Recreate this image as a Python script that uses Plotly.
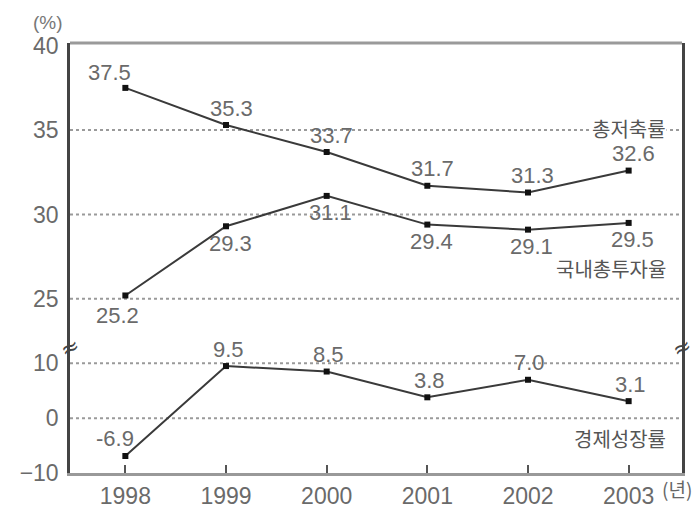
import plotly.graph_objects as go

years = [1998, 1999, 2000, 2001, 2002, 2003]
savings = [37.5, 35.3, 33.7, 31.7, 31.3, 32.6]      # 총저축률
investment = [25.2, 29.3, 31.1, 29.4, 29.1, 29.5]   # 국내총투자율
growth = [-6.9, 9.5, 8.5, 3.8, 7.0, 3.1]            # 경제성장률

names = ["총저축률", "국내총투자율", "경제성장률"]
top_ticks = [25, 30, 35, 40]
bottom_ticks = [-10, 0, 10]
top_grid = [25, 30, 35]
bottom_grid = [0, 10]

NUM_FONT = "Liberation Sans"
KR_FONT = "Noto Sans CJK KR"
BREAK = 0.2908

fig = go.Figure()
line_style = dict(color="#3a3a3a", width=2)
marker_style = dict(symbol="square", size=6, color="#111")

fig.add_trace(go.Scatter(x=years, y=savings, mode="lines+markers", line=line_style,
                         marker=marker_style, xaxis="x", yaxis="y", name=names[0]))
fig.add_trace(go.Scatter(x=years, y=investment, mode="lines+markers", line=line_style,
                         marker=marker_style, xaxis="x", yaxis="y", name=names[1]))
fig.add_trace(go.Scatter(x=years, y=growth, mode="lines+markers", line=line_style,
                         marker=marker_style, xaxis="x", yaxis="y2", name=names[2]))

annotations = []

# series names first (white background hides gridlines), values drawn on top
kr_font = dict(family=KR_FONT, size=20, color="#555")
annotations.append(dict(x=years[-1], y=savings[-1], xref="x", yref="y", text=names[0],
                        showarrow=False, xanchor="right", xshift=38, yshift=42,
                        font=kr_font, bgcolor="white", borderpad=0))
annotations.append(dict(x=years[-1], y=investment[-1], xref="x", yref="y", text=names[1],
                        showarrow=False, xanchor="right", xshift=38, yshift=-46,
                        font=kr_font, bgcolor="white", borderpad=0))
annotations.append(dict(x=years[-1], y=growth[-1], xref="x", yref="y2", text=names[2],
                        showarrow=False, xanchor="right", xshift=38, yshift=-37,
                        font=kr_font, bgcolor="white", borderpad=0))

num_font = dict(family=NUM_FONT, size=22, color="#6a6a6a")

def add_labels(vals, yref, xs, ys, first=None):
    for i, (x, v) in enumerate(zip(years, vals)):
        dx, dy = xs, ys
        if i == 0 and first is not None:
            dx, dy = first
        annotations.append(dict(x=x, y=v, xref="x", yref=yref, text=f"{v:.1f}",
                                showarrow=False, xshift=dx, yshift=dy, font=num_font))

add_labels(savings, "y", 5, 17, first=(-16, 15))
add_labels(investment, "y", 4, -17, first=(-8, -20))
add_labels(growth, "y2", 2, 17, first=(-10, 17))

annotations.append(dict(x=0, y=1, xref="paper", yref="paper", text="(%)", showarrow=False,
                        xanchor="center", yanchor="middle", xshift=-22, yshift=21,
                        font=dict(family=NUM_FONT, size=19, color="#777")))
annotations.append(dict(x=1, y=0, xref="paper", yref="paper", text="(년)", showarrow=False,
                        xanchor="left", yanchor="middle", xshift=-22, yshift=-15,
                        font=dict(family=KR_FONT, size=19, color="#666")))
for xp in (0, 1):
    annotations.append(dict(x=xp, y=BREAK, xref="paper", yref="paper", text="≈",
                            showarrow=False, xanchor="center", yanchor="middle",
                            textangle=-25, font=dict(family="DejaVu Sans", size=22, color="#444")))

shapes = []
for g in top_grid:
    shapes.append(dict(type="line", xref="x domain", yref="y", x0=0, x1=1, y0=g, y1=g,
                       line=dict(color="#9a9a9a", width=2, dash="dot"), layer="below"))
for g in bottom_grid:
    shapes.append(dict(type="line", xref="x domain", yref="y2", x0=0, x1=1, y0=g, y1=g,
                       line=dict(color="#9a9a9a", width=2, dash="dot"), layer="below"))
shapes.append(dict(type="line", xref="paper", yref="paper", x0=0, x1=1, y0=1, y1=1,
                   line=dict(color="#9a9a9a", width=3)))

tick_font = dict(family=NUM_FONT, size=23, color="#6a6a6a")

fig.update_layout(
    width=700, height=513,
    margin=dict(l=62, r=26, t=35, b=31),
    paper_bgcolor="white", plot_bgcolor="white",
    showlegend=False,
    xaxis=dict(range=[1997.45, 2003.53], tickvals=years, ticktext=[str(y) for y in years],
               ticks="inside", ticklen=8, tickwidth=2, tickcolor="#555",
               showline=True, linecolor="#999", linewidth=3, showgrid=False,
               zeroline=False, anchor="y2", tickfont=tick_font),
    yaxis=dict(domain=[BREAK, 1], range=[22.09, 40.16], tickvals=top_ticks,
               showgrid=False, zeroline=False, showline=True, mirror=True,
               linecolor="#444", linewidth=2.5, anchor="x", tickfont=tick_font,
               ticklabelstandoff=4),
    yaxis2=dict(domain=[0, BREAK], range=[-10, 12.8], tickvals=bottom_ticks,
                showgrid=False, zeroline=False, showline=True, mirror=True,
                linecolor="#444", linewidth=2.5, anchor="x", tickfont=tick_font,
                ticklabelstandoff=4),
    annotations=annotations,
    shapes=shapes,
)

fig.write_html("out.html")
